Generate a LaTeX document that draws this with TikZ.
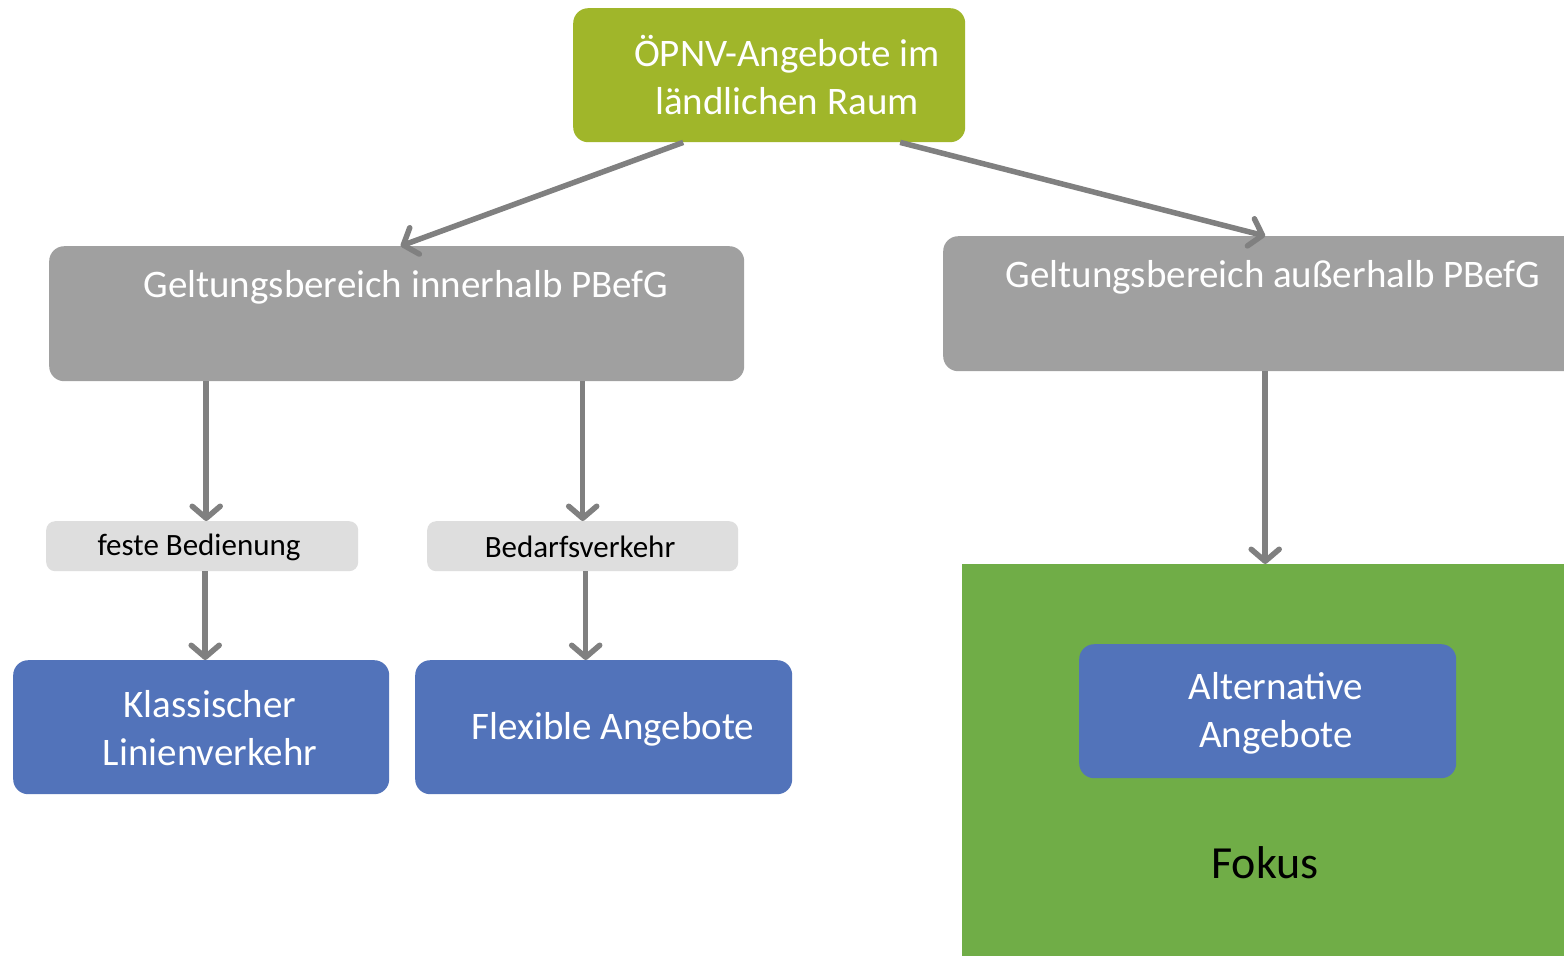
\documentclass[tikz,border=0pt]{standalone}
\usepackage{fontspec}
\setmainfont{Carlito}
\usetikzlibrary{arrows.meta,calc}
\definecolor{topgreen}{HTML}{A0B62A}
\definecolor{boxgrey}{HTML}{A0A0A0}
\definecolor{lightgrey}{HTML}{DEDEDE}
\definecolor{boxblue}{HTML}{5273BA}
\definecolor{focusgreen}{HTML}{70AD47}
\definecolor{arrowgrey}{HTML}{808080}
\tikzset{
  box/.style={draw=none, rounded corners=15pt, inner sep=0pt, anchor=north west},
  smallbox/.style={draw=none, fill=lightgrey, rounded corners=9pt, inner sep=0pt, anchor=north west},
  bigtext/.style={text=white, font=\fontsize{39}{48}\selectfont, align=center, inner sep=0pt},
  smalltext/.style={text=black, font=\fontsize{31}{34}\selectfont, inner sep=0pt},
  arr/.style={draw=arrowgrey, line width=5.5pt, -{Straight Barb[length=12pt, width=28pt, line width=5.5pt, round]}},
}
\begin{document}
\begin{tikzpicture}[x=1pt,y=-1pt]
\clip (0,0) rectangle (1564,956);
\fill[white] (0,0) rectangle (1564,956);
% boxes
\node[box, fill=topgreen, minimum width=392pt, minimum height=134pt] (top) at (573,8) {};
\node[bigtext] (toptext) at (787,75) {ÖPNV-Angebote im\\ländlichen Raum};
\node[box, fill=boxgrey, minimum width=695pt, minimum height=135pt] (inner) at (49,246) {};
\node[bigtext, anchor=base] (innertext) at (406,297) {Geltungsbereich innerhalb PBefG};
\node[box, fill=boxgrey, minimum width=660pt, minimum height=135pt] (outer) at (943,236) {};
\node[bigtext, anchor=base] (outertext) at (1273,287) {Geltungsbereich außerhalb PBefG};
\node[smallbox, minimum width=312pt, minimum height=50pt] (fest) at (46,521) {};
\node[smalltext] (festtext) at (199,547) {feste Bedienung};
\node[smallbox, minimum width=311pt, minimum height=50pt] (bedarf) at (427,521) {};
\node[smalltext] (bedarftext) at (580,547) {Bedarfsverkehr};
\node[box, fill=boxblue, minimum width=376pt, minimum height=134pt] (klass) at (13,660) {};
\node[bigtext] (klasstext) at (210,728) {Klassischer\\Linienverkehr};
\node[box, fill=boxblue, minimum width=377pt, minimum height=134pt] (flex) at (415,660) {};
\node[bigtext] (flextext) at (613,729) {Flexible Angebote};
\node[draw=none, fill=focusgreen, inner sep=0pt, anchor=north west, minimum width=602pt, minimum height=392pt] (fokus) at (962,564) {};
\node[box, fill=boxblue, minimum width=377pt, minimum height=134pt] (alt) at (1079,644) {};
\node[bigtext] (alttext) at (1276,713) {Alternative\\Angebote};
\node[text=black, font=\fontsize{46}{50}\selectfont, inner sep=0pt] (fokustext) at (1265,863) {Fokus};
% arrows
\draw[arr] ([xshift=-86pt]top.south) -- ([xshift=4pt]inner.north);
\draw[arr] ([xshift=131pt]top.south) -- ([xshift=-8pt]outer.north);
\draw[arr] (inner.south -| fest.south) ++(4,0) coordinate (a1) -- (a1 |- fest.north);
\draw[arr] (inner.south -| bedarf.south) ++(0,0) coordinate (a2) -- (a2 |- bedarf.north);
\draw[arr] (fest.south) ++(3,0) coordinate (a3) -- (a3 |- klass.north);
\draw[arr] (bedarf.south) ++(3,0) coordinate (a4) -- (a4 |- flex.north);
\draw[arr] (outer.south -| fokus.north) ++(2,0) coordinate (a5) -- (a5 |- fokus.north);
\end{tikzpicture}
\end{document}
